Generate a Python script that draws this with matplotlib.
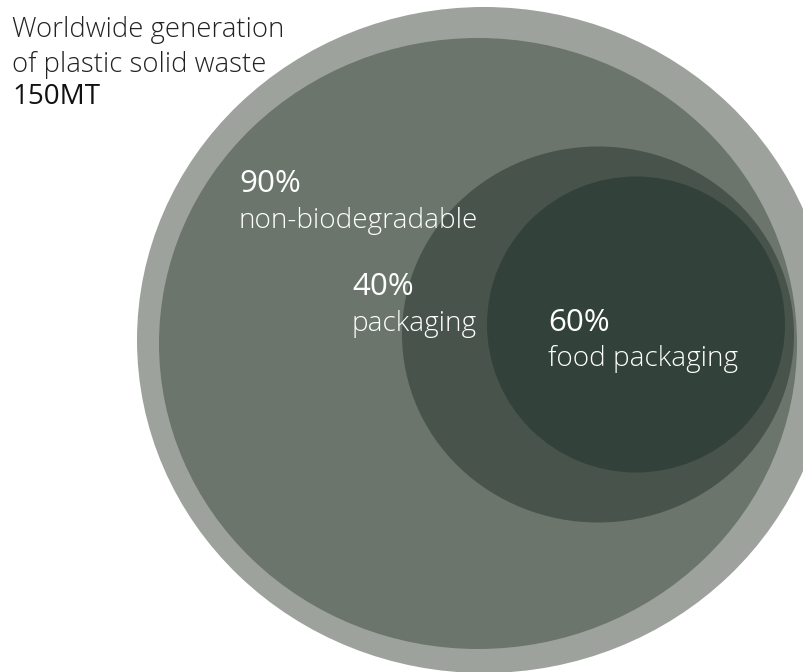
import matplotlib
matplotlib.use("Agg")
import matplotlib.pyplot as plt
from matplotlib.patches import Ellipse

# Nested shares of plastic solid waste (outer → inner)
layer_names = ["total", "non-biodegradable", "packaging", "food packaging"]
layer_pct = ["", "90%", "40%", "60%"]
layer_desc = ["", "non-biodegradable", "packaging", "food packaging"]
total_label = ["Worldwide generation", "of plastic solid waste"]
total_value = "150MT"

# geometry in pixel units: centre x, centre y, half-width, half-height
layer_cx = [484, 478, 598, 636]
layer_cy = [340, 343.5, 334.5, 324.5]
layer_rx = [347, 319, 196, 149]
layer_ry = [333, 305.5, 188, 148]
layer_colors = ["#9da29d", "#6b756c", "#48534b", "#32413a"]

W, H = 804, 672
fig = plt.figure(figsize=(W / 100, H / 100), dpi=100)
ax = fig.add_axes([0, 0, 1, 1])
ax.set_xlim(0, W)
ax.set_ylim(H, 0)
ax.axis("off")

for cx, cy, rx, ry, c in zip(layer_cx, layer_cy, layer_rx, layer_ry, layer_colors):
    ax.add_patch(Ellipse((cx, cy), 2 * rx, 2 * ry, facecolor=c, edgecolor="none"))

font = ["Open Sans", "DejaVu Sans"]

# headline at the top left
ax.text(12, 37, total_label[0], fontsize=19.8, fontweight=300, family=font,
        color="#222222", va="baseline", ha="left")
ax.text(12, 72, total_label[1], fontsize=19.8, fontweight=300, family=font,
        color="#222222", va="baseline", ha="left")
ax.text(12, 104, total_value, fontsize=20, fontweight=400, family=font,
        color="#111111", va="baseline", ha="left")

# labels inside the circles
label_x = [None, 239, 352, 548]
pct_y = [None, 192, 295, 331]
desc_y = [None, 228, 331, 366]
for i in range(1, 4):
    ax.text(label_x[i], pct_y[i], layer_pct[i], fontsize=22.6, fontweight=400,
            family=font, color="white", va="baseline", ha="left")
    ax.text(label_x[i], desc_y[i], layer_desc[i], fontsize=20.1, fontweight=300,
            family=font, color="white", va="baseline", ha="left")

fig.savefig("out.png", dpi=100)
